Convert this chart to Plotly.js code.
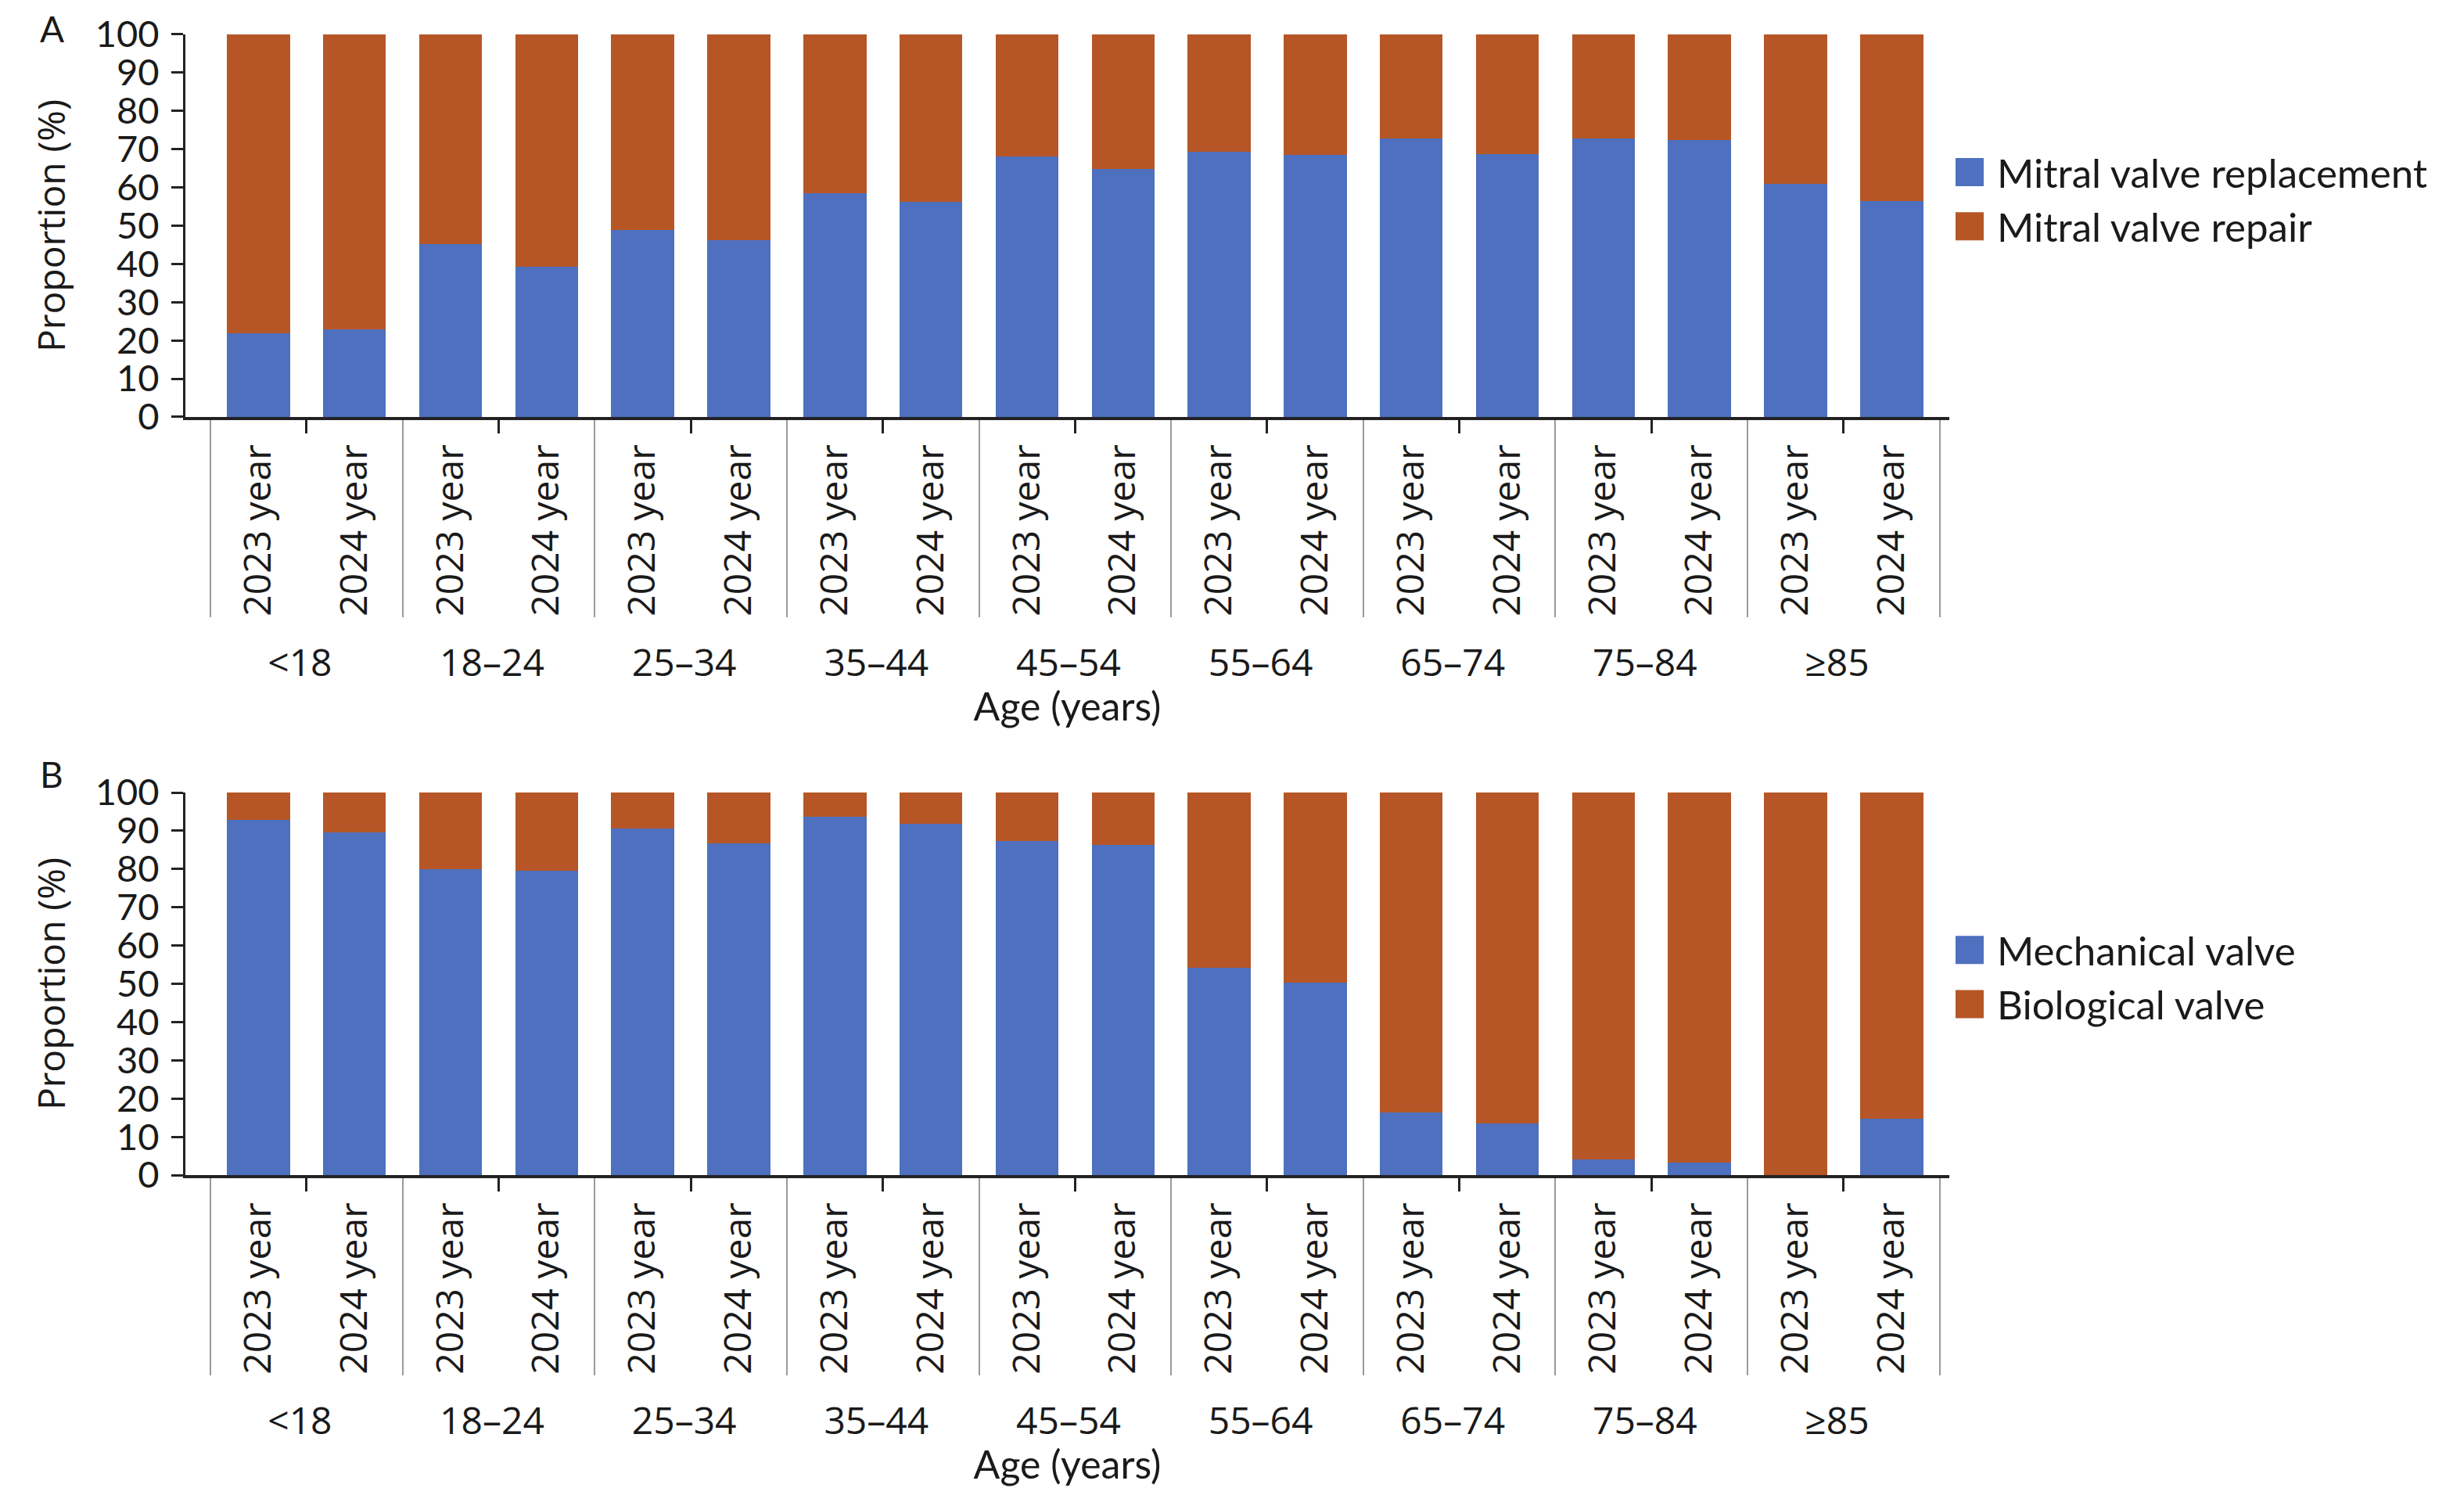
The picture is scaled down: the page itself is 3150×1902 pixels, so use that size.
<!DOCTYPE html>
<html>
<head>
<meta charset="utf-8">
<script src="https://cdn.plot.ly/plotly-3.0.1.min.js"></script>
<style>
  html, body { margin: 0; padding: 0; background: #fff; }
  #chart { width: 3150px; height: 1902px; }
</style>
</head>
<body>
<div id="chart"></div>
<script>
var ageGroups = ['<18', '18–24', '25–34', '35–44', '45–54', '55–64', '65–74', '75–84', '≥85'];
var years = ['2023 year', '2024 year'];

// panel A: mitral valve replacement vs repair (%)
var replacement = [21.8, 22.8, 45.1, 39.2, 48.9, 46.2, 58.4, 56.2, 68.1, 64.8, 69.4, 68.5, 72.8, 68.8, 72.8, 72.4, 61.0, 56.5];
var repair = [78.2, 77.2, 54.9, 60.8, 51.1, 53.8, 41.6, 43.8, 31.9, 35.2, 30.6, 31.5, 27.2, 31.2, 27.2, 27.6, 39.0, 43.5];

// panel B: mechanical vs biological valve (%)
var mechanical = [92.8, 89.6, 80.0, 79.5, 90.5, 86.8, 93.6, 91.9, 87.4, 86.2, 54.1, 50.3, 16.4, 13.5, 4.1, 3.3, 0.0, 14.8];
var biological = [7.2, 10.4, 20.0, 20.5, 9.5, 13.2, 6.4, 8.1, 12.6, 13.8, 45.9, 49.7, 83.6, 86.5, 95.9, 96.7, 100.0, 85.2];

var blue = '#4e70be';
var orange = '#b65627';

var xGroup = [], xYear = [];
ageGroups.forEach(function (g) {
    years.forEach(function (y) {
        xGroup.push(g);
        xYear.push(y);
    });
});
var xCats = [xGroup, xYear];

function barTrace(name, values, color, xa, ya, legend) {
    return {
        type: 'bar',
        name: name,
        x: xCats,
        y: values,
        xaxis: xa,
        yaxis: ya,
        legend: legend,
        marker: { color: color, line: { width: 0 } },
        hoverinfo: 'y+name'
    };
}

var data = [
    barTrace('Mitral valve replacement', replacement, blue, 'x', 'y', 'legend'),
    barTrace('Mitral valve repair', repair, orange, 'x', 'y', 'legend'),
    barTrace('Mechanical valve', mechanical, blue, 'x2', 'y2', 'legend2'),
    barTrace('Biological valve', biological, orange, 'x2', 'y2', 'legend2')
];

var textColor = '#1a1a1a';

function xAxis(anchor) {
    return {
        type: 'multicategory',
        anchor: anchor,
        domain: [0, 1],
        range: [-0.76, 17.6],
        showline: true,
        linecolor: '#222',
        linewidth: 4,
        ticks: 'outside',
        ticklen: 17,
        tickwidth: 3,
        tickcolor: '#222',
        tickangle: -90,
        ticklabelstandoff: 12,
        tickfont: { family: 'Open Sans', size: 48, color: textColor },
        showdividers: true,
        dividercolor: '#9a9a9a',
        dividerwidth: 2,
        showgrid: false,
        zeroline: false,
        automargin: false,
        title: { text: 'Age (years)', font: { family: 'Lato', size: 50, color: textColor }, standoff: 10 }
    };
}

function yAxis(anchor, domain) {
    return {
        anchor: anchor,
        domain: domain,
        range: [0, 100],
        dtick: 10,
        showline: true,
        linecolor: '#222',
        linewidth: 3,
        ticks: 'outside',
        ticklen: 15,
        tickwidth: 3,
        tickcolor: '#222',
        ticklabelstandoff: 6,
        tickfont: { family: 'Lato', size: 47, color: textColor },
        showgrid: false,
        zeroline: false,
        automargin: false,
        title: { text: 'Proportion (%)', font: { family: 'Open Sans', size: 48, color: textColor }, standoff: 24 }
    };
}

function legendBox(y) {
    return {
        x: 0.996,
        xanchor: 'left',
        y: y,
        yanchor: 'middle',
        traceorder: 'normal',
        font: { family: 'Lato', size: 51, color: textColor },
        itemwidth: 60,
        bgcolor: 'rgba(0,0,0,0)',
        borderwidth: 0
    };
}

function panelLabel(text, y) {
    return {
        text: text, xref: 'paper', yref: 'paper', x: -0.0758, y: y,
        xanchor: 'center', yanchor: 'middle', showarrow: false,
        font: { family: 'Lato', size: 46, color: textColor }
    };
}

var layout = {
    width: 3150,
    height: 1902,
    margin: { l: 237, r: 658, t: 0, b: 0 },
    paper_bgcolor: '#fff',
    plot_bgcolor: '#fff',
    barmode: 'stack',
    bargap: 0.345,
    showlegend: true,
    xaxis: xAxis('y'),
    yaxis: yAxis('x', [0.7198, 0.9769]),
    xaxis2: xAxis('y2'),
    yaxis2: yAxis('x2', [0.2103, 0.4674]),
    legend: legendBox(0.866),
    legend2: legendBox(0.3433),
    annotations: [panelLabel('A', 0.981), panelLabel('B', 0.4795)]
};

var config = { responsive: false, displayModeBar: false };

Plotly.newPlot('chart', data, layout, config).then(function (gd) {
    // bigger legend swatches, like the original figure
    gd.querySelectorAll('.legendpoints path').forEach(function (p) {
        var t = p.getAttribute('transform') || '';
        p.setAttribute('transform', t + ' scale(3)');
    });
    // dividers only run past the year labels in the original, not the age labels
    gd.querySelectorAll('path.xdivider, path.x2divider').forEach(function (p) {
        var d = p.getAttribute('d') || '';
        p.setAttribute('d', d.replace(/v(-?[\d.]+)/, function (m, n) {
            return 'v' + (parseFloat(n) < 0 ? -252 : 252);
        }));
    });
});
</script>
</body>
</html>
